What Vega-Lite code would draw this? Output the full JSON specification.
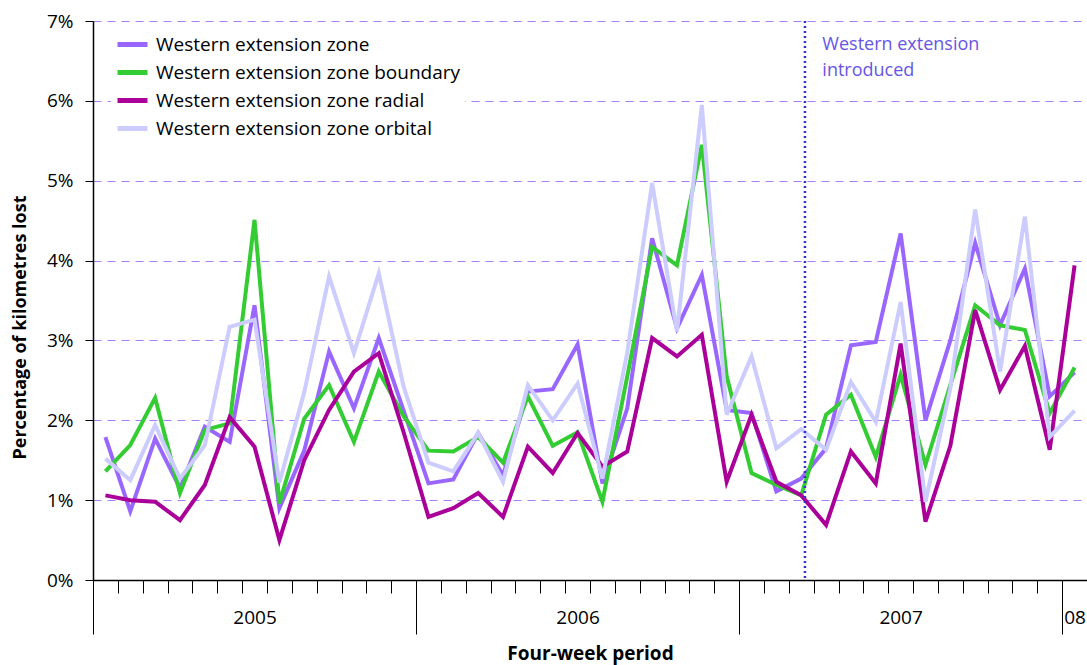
{
  "$schema": "https://vega.github.io/schema/vega-lite/v6.json",
  "width": 994,
  "height": 559,
  "autosize": {"type": "none"},
  "padding": {"left": 93, "top": 21, "right": 0, "bottom": 85},
  "background": "white",
  "config": {"font": "Open Sans", "view": {"stroke": null}},
  "resolve": {"axis": {"x": "independent"}},
  "layer": [
    {
      "data": {
        "values": [
          {"p": 0.5, "Western extension zone": 1.79, "Western extension zone boundary": 1.36, "Western extension zone radial": 1.06, "Western extension zone orbital": 1.52},
          {"p": 1.5, "Western extension zone": 0.86, "Western extension zone boundary": 1.69, "Western extension zone radial": 1.00, "Western extension zone orbital": 1.25},
          {"p": 2.5, "Western extension zone": 1.77, "Western extension zone boundary": 2.28, "Western extension zone radial": 0.98, "Western extension zone orbital": 1.94},
          {"p": 3.5, "Western extension zone": 1.15, "Western extension zone boundary": 1.09, "Western extension zone radial": 0.75, "Western extension zone orbital": 1.27},
          {"p": 4.5, "Western extension zone": 1.92, "Western extension zone boundary": 1.88, "Western extension zone radial": 1.19, "Western extension zone orbital": 1.69},
          {"p": 5.5, "Western extension zone": 1.73, "Western extension zone boundary": 1.96, "Western extension zone radial": 2.04, "Western extension zone orbital": 3.17},
          {"p": 6.5, "Western extension zone": 3.44, "Western extension zone boundary": 4.51, "Western extension zone radial": 1.67, "Western extension zone orbital": 3.26},
          {"p": 7.5, "Western extension zone": 0.90, "Western extension zone boundary": 0.96, "Western extension zone radial": 0.50, "Western extension zone orbital": 1.22},
          {"p": 8.5, "Western extension zone": 1.62, "Western extension zone boundary": 2.02, "Western extension zone radial": 1.50, "Western extension zone orbital": 2.35},
          {"p": 9.5, "Western extension zone": 2.86, "Western extension zone boundary": 2.44, "Western extension zone radial": 2.13, "Western extension zone orbital": 3.80},
          {"p": 10.5, "Western extension zone": 2.15, "Western extension zone boundary": 1.73, "Western extension zone radial": 2.61, "Western extension zone orbital": 2.84},
          {"p": 11.5, "Western extension zone": 3.03, "Western extension zone boundary": 2.61, "Western extension zone radial": 2.84, "Western extension zone orbital": 3.84},
          {"p": 12.5, "Western extension zone": 2.12, "Western extension zone boundary": 2.05, "Western extension zone radial": 1.85, "Western extension zone orbital": 2.42},
          {"p": 13.5, "Western extension zone": 1.21, "Western extension zone boundary": 1.62, "Western extension zone radial": 0.79, "Western extension zone orbital": 1.47},
          {"p": 14.5, "Western extension zone": 1.26, "Western extension zone boundary": 1.61, "Western extension zone radial": 0.90, "Western extension zone orbital": 1.36},
          {"p": 15.5, "Western extension zone": 1.84, "Western extension zone boundary": 1.79, "Western extension zone radial": 1.09, "Western extension zone orbital": 1.84},
          {"p": 16.5, "Western extension zone": 1.31, "Western extension zone boundary": 1.47, "Western extension zone radial": 0.79, "Western extension zone orbital": 1.23},
          {"p": 17.5, "Western extension zone": 2.36, "Western extension zone boundary": 2.30, "Western extension zone radial": 1.67, "Western extension zone orbital": 2.44},
          {"p": 18.5, "Western extension zone": 2.39, "Western extension zone boundary": 1.68, "Western extension zone radial": 1.34, "Western extension zone orbital": 2.00},
          {"p": 19.5, "Western extension zone": 2.95, "Western extension zone boundary": 1.85, "Western extension zone radial": 1.84, "Western extension zone orbital": 2.46},
          {"p": 20.5, "Western extension zone": 1.21, "Western extension zone boundary": 0.98, "Western extension zone radial": 1.42, "Western extension zone orbital": 1.27},
          {"p": 21.5, "Western extension zone": 2.15, "Western extension zone boundary": 2.55, "Western extension zone radial": 1.61, "Western extension zone orbital": 2.85},
          {"p": 22.5, "Western extension zone": 4.28, "Western extension zone boundary": 4.17, "Western extension zone radial": 3.03, "Western extension zone orbital": 4.97},
          {"p": 23.5, "Western extension zone": 3.15, "Western extension zone boundary": 3.94, "Western extension zone radial": 2.80, "Western extension zone orbital": 3.11},
          {"p": 24.5, "Western extension zone": 3.82, "Western extension zone boundary": 5.45, "Western extension zone radial": 3.07, "Western extension zone orbital": 5.95},
          {"p": 25.5, "Western extension zone": 2.13, "Western extension zone boundary": 2.55, "Western extension zone radial": 1.23, "Western extension zone orbital": 2.07},
          {"p": 26.5, "Western extension zone": 2.09, "Western extension zone boundary": 1.34, "Western extension zone radial": 2.07, "Western extension zone orbital": 2.80},
          {"p": 27.5, "Western extension zone": 1.11, "Western extension zone boundary": 1.19, "Western extension zone radial": 1.23, "Western extension zone orbital": 1.65},
          {"p": 28.5, "Western extension zone": 1.27, "Western extension zone boundary": 1.06, "Western extension zone radial": 1.06, "Western extension zone orbital": 1.89},
          {"p": 29.5, "Western extension zone": 1.65, "Western extension zone boundary": 2.07, "Western extension zone radial": 0.69, "Western extension zone orbital": 1.63},
          {"p": 30.5, "Western extension zone": 2.94, "Western extension zone boundary": 2.32, "Western extension zone radial": 1.61, "Western extension zone orbital": 2.48},
          {"p": 31.5, "Western extension zone": 2.98, "Western extension zone boundary": 1.54, "Western extension zone radial": 1.21, "Western extension zone orbital": 1.98},
          {"p": 32.5, "Western extension zone": 4.34, "Western extension zone boundary": 2.57, "Western extension zone radial": 2.96, "Western extension zone orbital": 3.48},
          {"p": 33.5, "Western extension zone": 2.00, "Western extension zone boundary": 1.44, "Western extension zone radial": 0.73, "Western extension zone orbital": 0.98},
          {"p": 34.5, "Western extension zone": 3.00, "Western extension zone boundary": 2.44, "Western extension zone radial": 1.68, "Western extension zone orbital": 2.40},
          {"p": 35.5, "Western extension zone": 4.22, "Western extension zone boundary": 3.44, "Western extension zone radial": 3.38, "Western extension zone orbital": 4.64},
          {"p": 36.5, "Western extension zone": 3.19, "Western extension zone boundary": 3.19, "Western extension zone radial": 2.38, "Western extension zone orbital": 2.61},
          {"p": 37.5, "Western extension zone": 3.90, "Western extension zone boundary": 3.13, "Western extension zone radial": 2.93, "Western extension zone orbital": 4.55},
          {"p": 38.5, "Western extension zone": 2.30, "Western extension zone boundary": 2.09, "Western extension zone radial": 1.63, "Western extension zone orbital": 1.79},
          {"p": 39.5, "Western extension zone": 2.60, "Western extension zone boundary": 2.66, "Western extension zone radial": 3.94, "Western extension zone orbital": 2.12}
        ]
      },
      "transform": [
        {"fold": ["Western extension zone", "Western extension zone boundary", "Western extension zone radial", "Western extension zone orbital"], "as": ["series", "value"]}
      ],
      "mark": {"type": "line", "strokeWidth": 4, "clip": false},
      "encoding": {
        "x": {
          "field": "p",
          "type": "quantitative",
          "scale": {"domain": [0, 40], "nice": false, "zero": false},
          "axis": {
            "orient": "bottom",
            "values": [0, 1, 2, 3, 4, 5, 6, 7, 8, 9, 10, 11, 12, 13, 14, 15, 16, 17, 18, 19, 20, 21, 22, 23, 24, 25, 26, 27, 28, 29, 30, 31, 32, 33, 34, 35, 36, 37, 38, 39, 40],
            "labels": false,
            "title": "Four-week period",
            "titleFontSize": 19,
            "titleFontWeight": "bold",
            "titleColor": "black",
            "titleY": 73,
            "titleBaseline": "middle",
            "tickSize": 13,
            "tickColor": "black",
            "tickWidth": 1,
            "domainColor": "black",
            "domainWidth": 1.5,
            "grid": false
          }
        },
        "y": {
          "field": "value",
          "type": "quantitative",
          "scale": {"domain": [0, 7], "nice": false},
          "axis": {
            "values": [0, 1, 2, 3, 4, 5, 6, 7],
            "labelExpr": "datum.value + '%'",
            "title": "Percentage of kilometres lost",
            "titleFontSize": 18,
            "titleFontWeight": "bold",
            "titleColor": "black",
            "titleX": -73,
            "titleY": 306,
            "titleAngle": -90,
            "titleAlign": "center",
            "titleBaseline": "middle",
            "labelFontSize": 19,
            "labelColor": "black",
            "labelPadding": 12,
            "tickSize": 8,
            "tickColor": "black",
            "domainColor": "black",
            "domainWidth": 1.5,
            "grid": true,
            "gridColor": "#9966ff",
            "gridOpacity": 0.85,
            "gridDash": [8, 6],
            "gridWidth": 1
          }
        },
        "color": {
          "field": "series",
          "type": "nominal",
          "scale": {
            "domain": ["Western extension zone", "Western extension zone boundary", "Western extension zone radial", "Western extension zone orbital"],
            "range": ["#9966ff", "#33cc33", "#aa0099", "#ccccff"]
          },
          "legend": {
            "orient": "none",
            "legendX": 18,
            "legendY": 2,
            "title": null,
            "fillColor": "white",
            "padding": 4,
            "labelFontSize": 19,
            "labelColor": "black",
            "labelLimit": 600,
            "symbolType": "stroke",
            "symbolSize": 900,
            "symbolStrokeWidth": 5,
            "rowPadding": 0,
            "labelOffset": 6
          }
        }
      }
    },
    {
      "data": {"values": [{"x": 28.65}]},
      "mark": {"type": "rule", "color": "#3333cc", "strokeWidth": 2.5, "strokeDash": [2, 3]},
      "encoding": {
        "x": {
          "field": "x",
          "type": "quantitative",
          "axis": {
            "orient": "bottom",
            "values": [0, 13, 26, 39],
            "labels": false,
            "domain": false,
            "grid": false,
            "title": null,
            "tickSize": 54,
            "tickColor": "black",
            "tickWidth": 1
          }
        }
      }
    },
    {
      "data": {"values": [{"x": 29.35, "y": 6.64, "label": ["Western extension", "introduced"]}]},
      "mark": {"type": "text", "align": "left", "baseline": "alphabetic", "fontSize": 18, "lineHeight": 26, "color": "#6655e6"},
      "encoding": {
        "x": {
          "field": "x",
          "type": "quantitative",
          "axis": {
            "orient": "bottom",
            "values": [6.5, 19.5, 32.5, 39.5],
            "labelExpr": "datum.value == 6.5 ? '2005' : datum.value == 19.5 ? '2006' : datum.value == 32.5 ? '2007' : '08'",
            "ticks": false,
            "tickSize": 0,
            "domain": false,
            "grid": false,
            "title": null,
            "labelPadding": 28,
            "labelFontSize": 19,
            "labelColor": "black",
            "labelOverlap": false,
            "labelBound": false,
            "labelFlush": false
          }
        },
        "y": {"field": "y", "type": "quantitative"},
        "text": {"field": "label"}
      }
    }
  ]
}
